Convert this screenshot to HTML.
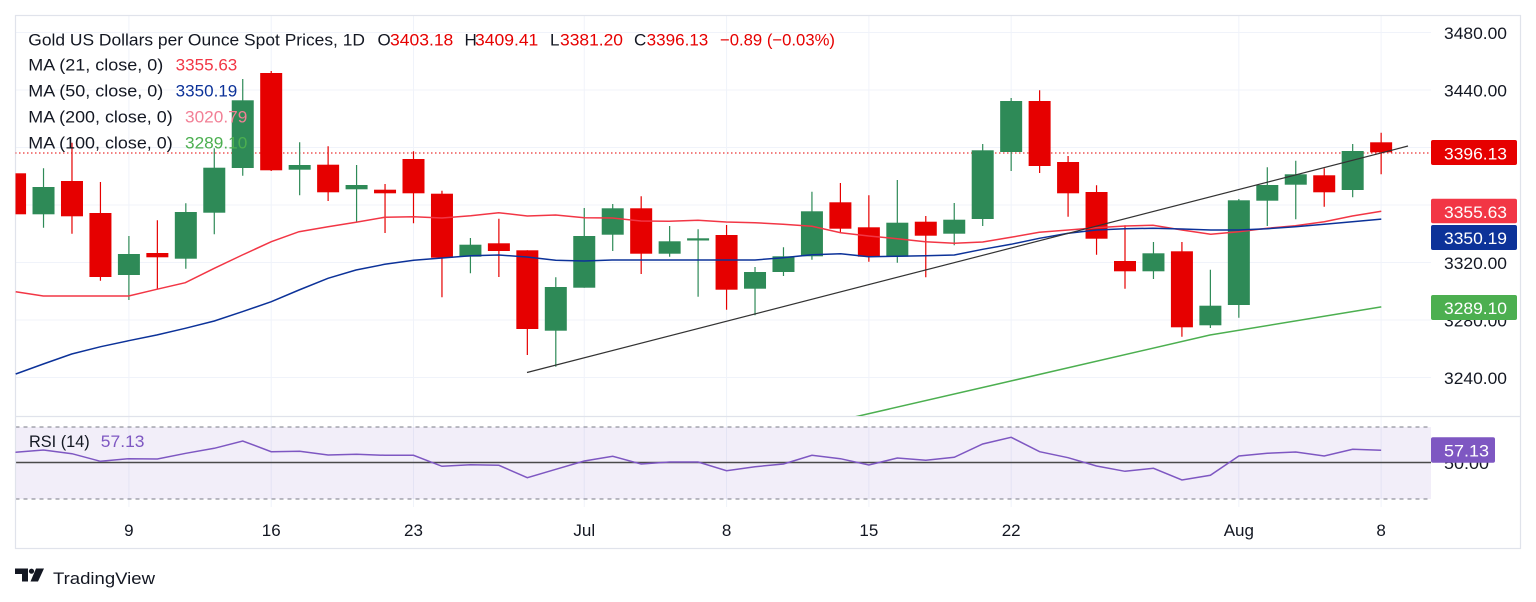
<!DOCTYPE html>
<html><head><meta charset="utf-8"><style>
html,body{margin:0;padding:0;background:#fff;}
svg{display:block;}
text{font-family:"Liberation Sans",Arial,sans-serif;}
</style></head><body>
<svg width="1536" height="602" viewBox="0 0 1536 602" xmlns="http://www.w3.org/2000/svg">
<defs>
<clipPath id="pp"><rect x="15.5" y="15.5" width="1415.5" height="400.5"/></clipPath>
<clipPath id="rp"><rect x="15.5" y="416.5" width="1415.5" height="91"/></clipPath>
</defs>
<rect width="1536" height="602" fill="#fff"/>
<!-- horizontal grid -->
<g stroke="#f0f3fa" stroke-width="1">
<path d="M15 32.5H1431M15 90H1431M15 147.5H1431M15 205H1431M15 262.5H1431M15 320H1431M15 377.5H1431"/>
<path d="M128.9 15V507M271.2 15V507M413.5 15V507M584.26 15V507M726.56 15V507M868.86 15V507M1011.16 15V507M1238.84 15V507M1381.14 15V507"/>
</g>
<!-- RSI band -->
<rect x="15.5" y="427" width="1415.5" height="72" fill="#7e57c2" fill-opacity="0.1"/>
<path d="M15.5 427H1431M15.5 499H1431" stroke="#787b86" stroke-width="1" stroke-dasharray="4,4"/>
<path d="M15.5 462.5H1431" stroke="#4a4a4a" stroke-width="1.6"/>
<!-- borders -->
<rect x="15.5" y="15.5" width="1505" height="533" fill="none" stroke="#e0e3eb" stroke-width="1.2"/>
<path d="M15.5 416.5H1520.5" stroke="#e0e3eb" stroke-width="1.2"/>

<g clip-path="url(#pp)">
<!-- price dotted line -->
<path d="M15 153H1431" stroke="#e60000" stroke-width="1" stroke-dasharray="1.5,2.5"/>
<!-- wicks green -->
<path stroke="#2e8a57" stroke-width="1.2" fill="none" d="M43.52 168.3V227.7M128.9 236V300M185.82 203.3V268.7M214.28 148.3V234.3M242.74 79V175.7M299.66 142.3V195.3M356.58 165V222.3M470.42 238V273.3M555.8 277.3V366.7M584.26 208V287.7M612.72 204V251M669.64 226V256.7M698.1 229.3V296.7M755.02 267V315.3M783.48 247.3V276M811.94 191.7V259.7M897.32 180V262.7M954.24 203V245.3M982.7 144V226M1011.16 98V171M1153.46 242V279M1210.38 269.7V328M1238.84 199V317.7M1267.3 167.3V226M1295.76 160.7V219.3M1352.68 144V197.3"/>
<!-- wicks red -->
<path stroke="#e60000" stroke-width="1.2" fill="none" d="M71.98 142.7V233.7M100.44 182V280.7M157.36 220.3V289.3M271.2 71V171M328.12 146.3V201M385.04 184V233M413.5 151.3V223.3M441.96 190.7V297.3M498.88 218.7V277M527.34 250.3V355M641.18 196.3V274M726.56 225V309.7M840.4 183V232M868.86 195.3V261.7M925.78 216V277.3M1039.62 90.3V173M1068.08 156V216.7M1096.54 185.3V254.7M1125 225.3V288.7M1181.92 242V336.7M1324.22 168.3V206.7M1381.14 132.7V174.3"/>
<!-- green bodies -->
<g fill="#2e8a57">
<rect x="32.52" y="187" width="22" height="27.3"/>
<rect x="117.9" y="254" width="22" height="21"/>
<rect x="174.82" y="212" width="22" height="46.7"/>
<rect x="203.28" y="167.7" width="22" height="45"/>
<rect x="231.74" y="100.3" width="22" height="67.7"/>
<rect x="288.66" y="165" width="22" height="4.7"/>
<rect x="345.58" y="185" width="22" height="4.3"/>
<rect x="459.42" y="244.7" width="22" height="12"/>
<rect x="544.8" y="287" width="22" height="43.7"/>
<rect x="573.26" y="236" width="22" height="51.7"/>
<rect x="601.72" y="208.3" width="22" height="26.4"/>
<rect x="658.64" y="241.3" width="22" height="12.4"/>
<rect x="687.1" y="238.3" width="22" height="2.2"/>
<rect x="744.02" y="272" width="22" height="16.7"/>
<rect x="772.48" y="256.3" width="22" height="15.7"/>
<rect x="800.94" y="211.3" width="22" height="45"/>
<rect x="886.32" y="222.7" width="22" height="34"/>
<rect x="943.24" y="219.7" width="22" height="14"/>
<rect x="971.7" y="150.3" width="22" height="68.7"/>
<rect x="1000.16" y="101" width="22" height="51"/>
<rect x="1142.46" y="253.3" width="22" height="18"/>
<rect x="1199.38" y="305.7" width="22" height="19.6"/>
<rect x="1227.84" y="200.3" width="22" height="104.7"/>
<rect x="1256.3" y="185" width="22" height="15.7"/>
<rect x="1284.76" y="174.3" width="22" height="10.4"/>
<rect x="1341.68" y="151" width="22" height="39"/>
</g>
<!-- red bodies -->
<g fill="#e60000">
<rect x="4.06" y="173.3" width="22" height="41"/>
<rect x="60.98" y="181" width="22" height="35.3"/>
<rect x="89.44" y="213" width="22" height="64"/>
<rect x="146.36" y="253" width="22" height="4.3"/>
<rect x="260.2" y="73" width="22" height="97.3"/>
<rect x="317.12" y="164.7" width="22" height="27.6"/>
<rect x="374.04" y="189.7" width="22" height="3.6"/>
<rect x="402.5" y="159" width="22" height="34.3"/>
<rect x="430.96" y="193.7" width="22" height="64"/>
<rect x="487.88" y="243.3" width="22" height="7.7"/>
<rect x="516.34" y="250.3" width="22" height="78.7"/>
<rect x="630.18" y="208.3" width="22" height="45.4"/>
<rect x="715.56" y="235" width="22" height="54.7"/>
<rect x="829.4" y="202.3" width="22" height="26.4"/>
<rect x="857.86" y="227.3" width="22" height="29.4"/>
<rect x="914.78" y="221.7" width="22" height="14"/>
<rect x="1028.62" y="101" width="22" height="65"/>
<rect x="1057.08" y="162" width="22" height="31.3"/>
<rect x="1085.54" y="192" width="22" height="46.7"/>
<rect x="1114" y="261" width="22" height="10.3"/>
<rect x="1170.92" y="251.3" width="22" height="76"/>
<rect x="1313.22" y="175.3" width="22" height="17"/>
<rect x="1370.14" y="142.3" width="22" height="10"/>
</g>
<!-- MA 21 -->
<polyline fill="none" stroke="#f23645" stroke-width="1.5" points="15.7,291.7 43.3,296 128.7,296 156.7,289.3 185.3,282.7 214.3,268.3 242.3,255 271.3,241.7 299,231.7 328,226.7 356,222.3 384.7,217.3 413.7,216.7 442,218 470.7,215.7 498.7,212.7 527.3,216 555.7,215 584.3,217.7 612.3,218 641,221 669,221.3 698,220.3 726,222 755,222.7 783,224.3 812,226.3 840.7,232.7 868.7,236 897.3,238.7 925.3,241.7 954.3,243.3 982.7,242 1011,237.3 1039.3,232.3 1068.3,230 1096.3,227.7 1125,226 1153,225.3 1182,230 1210.7,234.3 1238.7,231.7 1267.3,228.3 1295.3,225.7 1324.3,221.7 1352.3,216 1381.3,211.3"/>
<!-- MA 50 -->
<polyline fill="none" stroke="#0c3299" stroke-width="1.5" points="15.7,374 43.3,364 71.7,354 100.7,346.7 128.7,340.7 156.7,335 185.3,328.3 214.3,321 242.3,311.7 271.3,301.7 299,290 328,278.3 356,270 384.7,264.3 413.7,260.3 442,258 470.7,255.7 498.7,255 527,257 555.7,260.3 584.3,261 612,260 641,260 669,260 698,260 726,260 755,260 783,257.7 812,254.7 840.7,253.7 868.7,256.7 897.3,256.3 925.3,255.7 954.3,255 982.7,249.3 1011,244.3 1039.3,238.3 1068.3,233.3 1096.3,230 1125,228.7 1153,228.3 1182,229 1210.7,230 1238.7,230 1267.3,228.7 1295.3,226.7 1324.3,224.3 1352.3,221.7 1381.3,219.1"/>
<!-- MA 100 -->
<polyline fill="none" stroke="#4caf50" stroke-width="1.5" points="850,418 1000,383.5 1210,335 1381.3,306.9"/>
<!-- trendline -->
<path d="M527 372.5L1408 146" stroke="#333" stroke-width="1.2" fill="none"/>
</g>

<!-- RSI line -->
<polyline clip-path="url(#rp)" fill="none" stroke="#7e57c2" stroke-width="1.5" points="15.06,452.3 43.52,450 71.98,453.7 100.44,461.3 128.9,458.7 157.36,459 185.82,453.3 214.28,448.3 242.74,441 271.2,451.7 299.66,451.3 328.12,455 356.58,454.3 385.04,455.3 413.5,455.3 441.96,466.3 470.42,464.7 498.88,465.3 527.34,477.7 555.8,469.3 584.26,461 612.72,456.3 641.18,464 669.64,462 698.1,462 726.56,470.7 755.02,466.7 783.48,464 811.94,455.3 840.4,458.7 868.86,465 897.32,458 925.78,460.3 954.24,457.3 982.7,444 1011.16,437.3 1039.62,451.7 1068.08,457.7 1096.54,466 1125,471.3 1153.46,468.3 1181.92,480 1210.38,475.3 1238.84,456 1267.3,453.3 1295.76,452 1324.22,456 1352.68,449.3 1381.14,450.2"/>

<!-- legend -->
<g font-size="17" fill="#131722">
<text x="28.3" y="45.3" textLength="336.7" lengthAdjust="spacingAndGlyphs">Gold US Dollars per Ounce Spot Prices, 1D</text>
<text x="377.5" y="45.3">O</text>
<text x="390" y="45.3" fill="#e60000" textLength="63.3" lengthAdjust="spacingAndGlyphs">3403.18</text>
<text x="464.5" y="45.3">H</text>
<text x="475" y="45.3" fill="#e60000" textLength="63.3" lengthAdjust="spacingAndGlyphs">3409.41</text>
<text x="550" y="45.3">L</text>
<text x="560" y="45.3" fill="#e60000" textLength="63" lengthAdjust="spacingAndGlyphs">3381.20</text>
<text x="634" y="45.3">C</text>
<text x="646.7" y="45.3" fill="#e60000" textLength="61.6" lengthAdjust="spacingAndGlyphs">3396.13</text>
<text x="720" y="45.3" fill="#e60000" textLength="115" lengthAdjust="spacingAndGlyphs">−0.89 (−0.03%)</text>

<text x="28.3" y="70.7" textLength="135" lengthAdjust="spacingAndGlyphs">MA (21, close, 0)</text>
<text x="175.7" y="70.7" fill="#f23645" textLength="61.6" lengthAdjust="spacingAndGlyphs">3355.63</text>
<text x="28.3" y="96.7" textLength="135" lengthAdjust="spacingAndGlyphs">MA (50, close, 0)</text>
<text x="175.7" y="96.7" fill="#0c3299" textLength="61.6" lengthAdjust="spacingAndGlyphs">3350.19</text>
<text x="28.3" y="122.7" textLength="144.4" lengthAdjust="spacingAndGlyphs">MA (200, close, 0)</text>
<text x="185" y="122.7" fill="#f28096" textLength="62.3" lengthAdjust="spacingAndGlyphs">3020.79</text>
<text x="28.3" y="148.7" textLength="144.4" lengthAdjust="spacingAndGlyphs">MA (100, close, 0)</text>
<text x="185" y="148.7" fill="#4caf50" textLength="62.3" lengthAdjust="spacingAndGlyphs">3289.10</text>

<text x="29" y="447" textLength="60.7" lengthAdjust="spacingAndGlyphs">RSI (14)</text>
<text x="100.8" y="447" fill="#7e57c2" textLength="43.7" lengthAdjust="spacingAndGlyphs">57.13</text>
</g>

<!-- right axis labels -->
<g font-size="17" fill="#131722">
<text x="1444" y="39" textLength="63" lengthAdjust="spacingAndGlyphs">3480.00</text>
<text x="1444" y="96.5" textLength="63" lengthAdjust="spacingAndGlyphs">3440.00</text>
<text x="1444" y="154" textLength="63" lengthAdjust="spacingAndGlyphs">3400.00</text>
<text x="1444" y="211.5" textLength="63" lengthAdjust="spacingAndGlyphs">3360.00</text>
<text x="1444" y="269" textLength="63" lengthAdjust="spacingAndGlyphs">3320.00</text>
<text x="1444" y="326.5" textLength="63" lengthAdjust="spacingAndGlyphs">3280.00</text>
<text x="1444" y="384" textLength="63" lengthAdjust="spacingAndGlyphs">3240.00</text>
<text x="1444" y="469" textLength="45" lengthAdjust="spacingAndGlyphs">50.00</text>
</g>
<!-- value boxes -->
<rect x="1431" y="140" width="86" height="25" rx="2" fill="#e60000"/>
<rect x="1431" y="198.7" width="86" height="24.6" rx="2" fill="#f23645"/>
<rect x="1431" y="225" width="86" height="25" rx="2" fill="#0c3299"/>
<rect x="1431" y="295" width="86" height="25" rx="2" fill="#4caf50"/>
<rect x="1431" y="437.3" width="64" height="25.4" rx="2" fill="#7e57c2"/>
<g font-size="17" fill="#fff">
<text x="1444" y="159.3" textLength="63" lengthAdjust="spacingAndGlyphs">3396.13</text>
<text x="1444" y="217.8" textLength="63" lengthAdjust="spacingAndGlyphs">3355.63</text>
<text x="1444" y="244.2" textLength="63" lengthAdjust="spacingAndGlyphs">3350.19</text>
<text x="1444" y="314.2" textLength="63" lengthAdjust="spacingAndGlyphs">3289.10</text>
<text x="1444" y="456.3" textLength="45" lengthAdjust="spacingAndGlyphs">57.13</text>
</g>

<!-- time axis -->
<g font-size="17" fill="#131722" text-anchor="middle">
<text x="128.9" y="536">9</text>
<text x="271.2" y="536">16</text>
<text x="413.5" y="536">23</text>
<text x="584.26" y="536">Jul</text>
<text x="726.56" y="536">8</text>
<text x="868.86" y="536">15</text>
<text x="1011.16" y="536">22</text>
<text x="1238.84" y="536">Aug</text>
<text x="1381.14" y="536">8</text>
</g>

<!-- TradingView logo -->
<g fill="#131722">
<path d="M15 568.5H28V581.5H22V574H15Z"/>
<circle cx="31.5" cy="571.2" r="2.6"/>
<path d="M36 568.5H44L38 581.5H30.5Z"/>
</g>
<text x="53" y="584" font-size="17" fill="#131722" textLength="102" lengthAdjust="spacingAndGlyphs">TradingView</text>
</svg>
</body></html>
